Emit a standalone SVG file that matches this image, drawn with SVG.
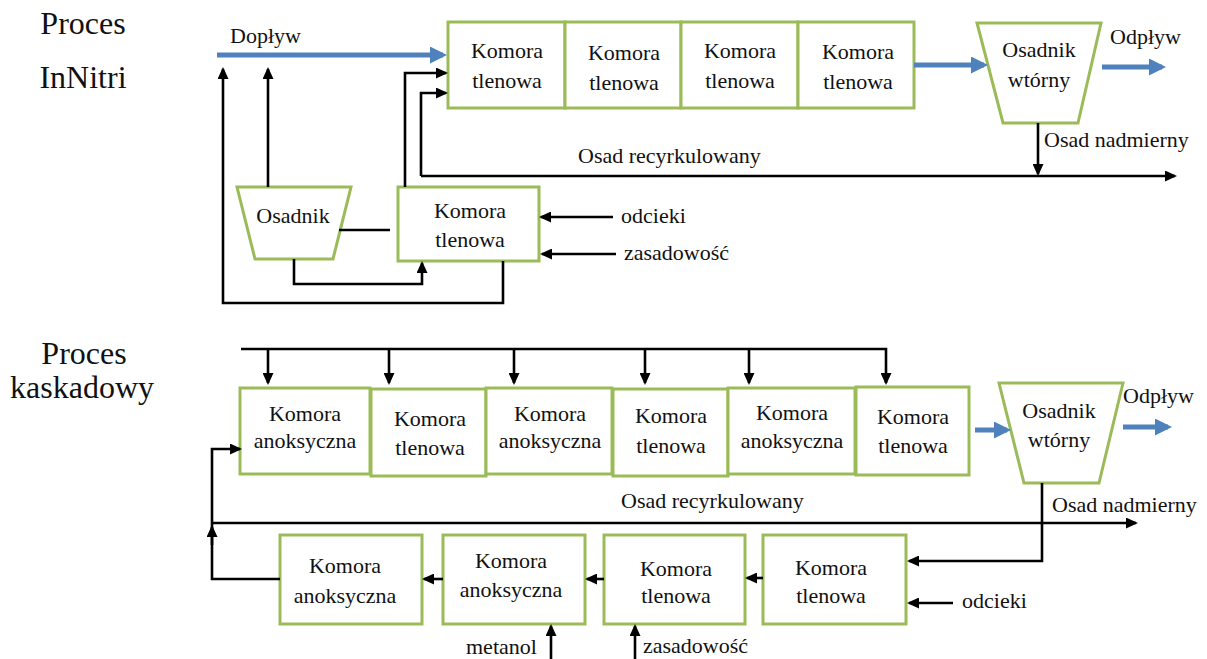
<svg xmlns="http://www.w3.org/2000/svg" width="1207" height="659" viewBox="0 0 1207 659">
  <style>
    text { font-family: "Liberation Serif", "Times New Roman", serif; font-size: 22px; fill: #111; }
    .title { font-size: 32px; text-anchor: middle; }
    .c { text-anchor: middle; }
    .box { fill: #fff; stroke: #9bbb59; stroke-width: 3; }
    .ln { fill: none; stroke: #000; stroke-width: 2.6; }
    .arr { marker-end: url(#ah); }
    .flow { fill: none; stroke: #4f81bd; stroke-width: 5; marker-end: url(#bh); }
  </style>
  <defs>
    <marker id="ah" markerUnits="userSpaceOnUse" markerWidth="12" markerHeight="11" refX="10" refY="5.5" orient="auto">
      <path d="M0,0 L12,5.5 L0,11 z" fill="#000"/>
    </marker>
    <marker id="bh" markerUnits="userSpaceOnUse" markerWidth="17" markerHeight="17" refX="13" refY="8.5" orient="auto">
      <path d="M0,0 L17,8.5 L0,17 z" fill="#4f81bd"/>
    </marker>
  </defs>

  <!-- section titles -->
  <text class="title" x="83" y="34">Proces</text>
  <text class="title" x="83" y="88">InNitri</text>
  <text class="title" x="84" y="364">Proces</text>
  <text class="title" x="82" y="398">kaskadowy</text>

  <!-- ===== InNitri process: nodes ===== -->
  <g id="in-k1"><rect class="box" x="448" y="22" width="117" height="86"/><text class="c" x="507" y="58">Komora</text><text class="c" x="507" y="88">tlenowa</text></g>
  <g id="in-k2"><rect class="box" x="565" y="22" width="116" height="86"/><text class="c" x="624" y="60">Komora</text><text class="c" x="624" y="90">tlenowa</text></g>
  <g id="in-k3"><rect class="box" x="681" y="22" width="117" height="86"/><text class="c" x="740" y="58">Komora</text><text class="c" x="740" y="88">tlenowa</text></g>
  <g id="in-k4"><rect class="box" x="798" y="22" width="116" height="86"/><text class="c" x="858" y="59">Komora</text><text class="c" x="858" y="89">tlenowa</text></g>
  <g id="in-osw"><path class="box" d="M977,23 L1101,23 L1078,123 L1003,123 Z"/><text class="c" x="1039" y="57">Osadnik</text><text class="c" x="1039" y="87">wtórny</text></g>
  <g id="in-os"><path class="box" d="M237,187 L351,187 L333,259 L255,259 Z"/><text class="c" x="293" y="223">Osadnik</text></g>
  <g id="in-k5"><rect class="box" x="398" y="187" width="141" height="74"/><text class="c" x="470" y="218">Komora</text><text class="c" x="470" y="247">tlenowa</text></g>

  <!-- InNitri labels -->
  <text x="230" y="43">Dopływ</text>
  <text x="1110" y="44">Odpływ</text>
  <text x="1044" y="147">Osad nadmierny</text>
  <text x="578" y="163">Osad recyrkulowany</text>
  <text x="621" y="223">odcieki</text>
  <text x="624" y="260">zasadowość</text>

  <!-- ===== Cascade process: nodes ===== -->
  <g id="ka-1"><rect class="box" x="240" y="388" width="130" height="86"/><text class="c" x="305" y="421">Komora</text><text class="c" x="305" y="448">anoksyczna</text></g>
  <g id="ka-2"><rect class="box" x="371" y="389" width="115" height="87"/><text class="c" x="430" y="426">Komora</text><text class="c" x="430" y="455">tlenowa</text></g>
  <g id="ka-3"><rect class="box" x="486" y="388" width="126" height="86"/><text class="c" x="550" y="421">Komora</text><text class="c" x="550" y="448">anoksyczna</text></g>
  <g id="ka-4"><rect class="box" x="613" y="389" width="115" height="87"/><text class="c" x="671" y="423">Komora</text><text class="c" x="671" y="453">tlenowa</text></g>
  <g id="ka-5"><rect class="box" x="728" y="388" width="127" height="86"/><text class="c" x="792" y="420">Komora</text><text class="c" x="792" y="448">anoksyczna</text></g>
  <g id="ka-6"><rect class="box" x="856" y="387" width="113" height="88"/><text class="c" x="913" y="424">Komora</text><text class="c" x="913" y="453">tlenowa</text></g>
  <g id="ka-osw"><path class="box" d="M999,383 L1123,383 L1099,483 L1024,483 Z"/><text class="c" x="1059" y="418">Osadnik</text><text class="c" x="1059" y="447">wtórny</text></g>
  <g id="kb-1"><rect class="box" x="280" y="535" width="142" height="89"/><text class="c" x="345" y="573">Komora</text><text class="c" x="345" y="603">anoksyczna</text></g>
  <g id="kb-2"><rect class="box" x="443" y="535" width="142" height="89"/><text class="c" x="511" y="568">Komora</text><text class="c" x="511" y="597">anoksyczna</text></g>
  <g id="kb-3"><rect class="box" x="604" y="535" width="141" height="89"/><text class="c" x="676" y="576">Komora</text><text class="c" x="676" y="603">tlenowa</text></g>
  <g id="kb-4"><rect class="box" x="763" y="535" width="143" height="89"/><text class="c" x="831" y="575">Komora</text><text class="c" x="831" y="603">tlenowa</text></g>

  <!-- cascade labels -->
  <text x="1123" y="403">Odpływ</text>
  <text x="621" y="508">Osad recyrkulowany</text>
  <text x="1052" y="512">Osad nadmierny</text>
  <text x="962" y="608">odcieki</text>
  <text x="466" y="654">metanol</text>
  <text x="643" y="653">zasadowość</text>

  <!-- ===== connectors ===== -->
  <g id="connectors">
    <!-- InNitri main flow -->
    <path class="flow" d="M217,55 H443"/>
    <path class="flow" d="M914,65 H984"/>
    <path class="flow" d="M1102,67 H1162"/>
    <!-- InNitri sludge lines -->
    <path class="ln arr" d="M1038,123 V174"/>
    <path class="ln arr" d="M421,176 H1175"/>
    <path class="ln arr" d="M421,176 V93 H446"/>
    <path class="ln arr" d="M405,187 V73 H446"/>
    <path class="ln arr" d="M268,187 V69"/>
    <path class="ln arr" d="M503,261 V303 H223 V69"/>
    <path class="ln arr" d="M294,259 V284 H422 V263"/>
    <path class="ln" d="M339,230 H390"/>
    <path class="ln arr" d="M613,217 H541"/>
    <path class="ln arr" d="M616,254 H542"/>

    <!-- cascade feed distribution -->
    <path class="ln arr" d="M241,349 H886 V383"/>
    <path class="ln arr" d="M268,349 V383"/>
    <path class="ln arr" d="M389,349 V383"/>
    <path class="ln arr" d="M514,349 V383"/>
    <path class="ln arr" d="M645,349 V383"/>
    <path class="ln arr" d="M749,349 V383"/>
    <!-- cascade main flow -->
    <path class="flow" d="M975,430 H1007"/>
    <path class="flow" d="M1123,427 H1168"/>
    <!-- cascade sludge lines -->
    <path class="ln arr" d="M212,523 H1136"/>
    <path class="ln arr" d="M1042,483 V561 H909"/>
    <path class="ln arr" d="M280,579 H212 V449 H240"/>
    <path class="ln arr" d="M212,545 V527"/>
    <path class="ln arr" d="M443,579 H424"/>
    <path class="ln arr" d="M604,579 H587"/>
    <path class="ln arr" d="M763,578 H747"/>
    <path class="ln arr" d="M953,603 H909"/>
    <path class="ln arr" d="M551,659 V626"/>
    <path class="ln arr" d="M635,659 V626"/>
  </g>
</svg>
